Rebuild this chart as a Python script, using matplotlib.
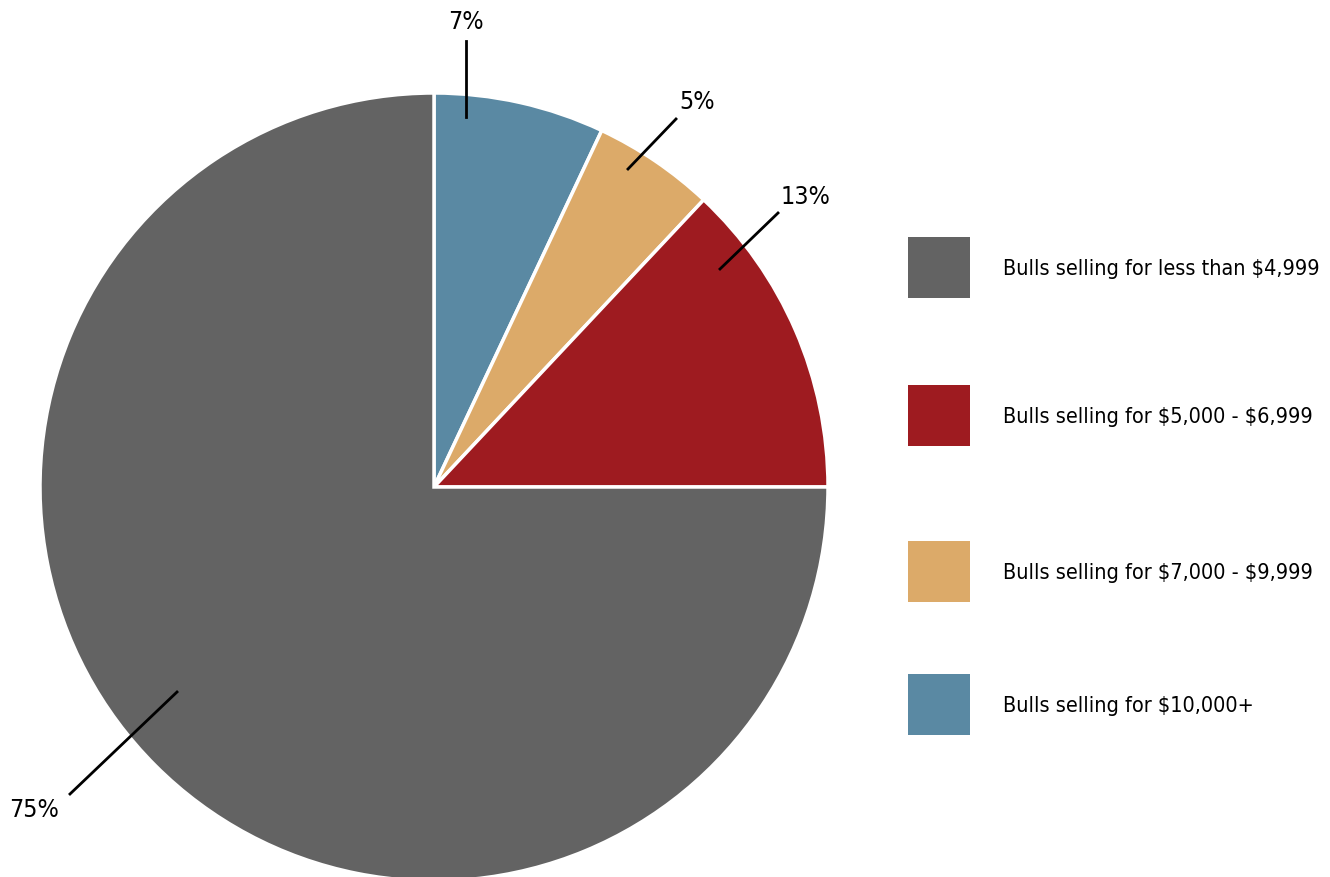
import numpy as np
import matplotlib.pyplot as plt
from matplotlib.patches import Rectangle

plt.rcParams['font.family'] = ['DejaVu Sans']
plt.rcParams['font.stretch'] = 'condensed'
plt.rcParams['text.parse_math'] = False

# data, in the order drawn (clockwise from 12 o'clock)
labels = ["Bulls selling for $10,000+",
          "Bulls selling for $7,000 - $9,999",
          "Bulls selling for $5,000 - $6,999",
          "Bulls selling for less than $4,999"]
shares = [7, 5, 13, 75]
colors = ["#5a89a3", "#dcaa69", "#9e1b20", "#636363"]

# legend order (top to bottom)
legend_order = [3, 2, 1, 0]

W, H = 1330, 878
fig = plt.figure(figsize=(W/100, H/100), dpi=100)
ax = fig.add_axes([0, 0, 1, 1])

cx, cy, R = 434, H-488, 394
wedges, _ = ax.pie(shares, colors=colors, startangle=90, counterclock=False,
                   center=(cx, cy), radius=R, frame=True,
                   wedgeprops=dict(edgecolor='white', linewidth=2.5))
ax.set_xlim(0, W)
ax.set_ylim(0, H)
ax.set_aspect('equal')
ax.axis('off')

# label leader lines: line start, line end, text centre (pixels from top-left)
lead = [
    ((466, 118), (466, 42), (466, 22)),
    ((628, 170), (676, 120), (697, 102)),
    ((720, 270), (778, 214), (806, 197)),
    ((177, 693), (70, 795), (34, 810)),
]
for i, (p0, p1, pt) in enumerate(lead):
    ax.plot([p0[0], p1[0]], [H-p0[1], H-p1[1]], color='black', lw=2)
    ax.text(pt[0], H-pt[1], f"{shares[i]}%", ha='center', va='center', fontsize=18)

# manual legend (uneven spacing as in original)
box_y = [238, 386, 542, 675]
for k, idx in enumerate(legend_order):
    y0 = box_y[k]
    ax.add_patch(Rectangle((908, H-y0-61), 62, 61, facecolor=colors[idx], edgecolor='none'))
    ax.text(1003, H-y0-31, labels[idx], ha='left', va='center', fontsize=15.5)

fig.savefig("out.png", dpi=100)
